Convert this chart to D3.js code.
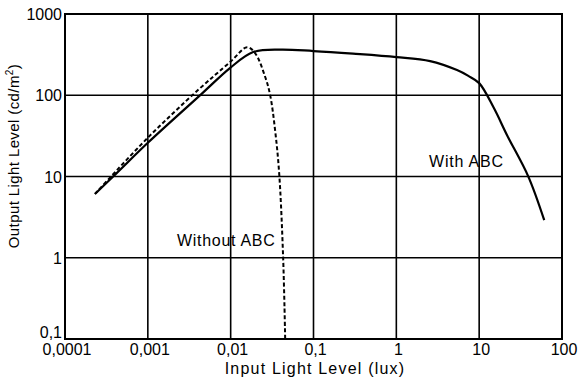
<!DOCTYPE html>
<html>
<head>
<meta charset="utf-8">
<script src="https://cdn.jsdelivr.net/npm/d3@7"></script>
<style>
  body { margin: 0; background: #fff; }
  svg text { font-family: "Liberation Sans", Arial, sans-serif; fill: #000; }
</style>
</head>
<body>
<div id="chart"></div>
<script>
// Tick values + labels (scan uses decimal commas)
var xTicks = [0.0001, 0.001, 0.01, 0.1, 1, 10, 100]
var xTickLabels = ['0,0001', '0,001', '0,01', '0,1', '1', '10', '100']
var yTicks = [0.1, 1, 10, 100, 1000]
var yTickLabels = ['0,1', '1', '10', '100', '1000']

// With ABC (solid)
var withX = [0.00023, 0.00042, 0.001, 0.0046, 0.0098, 0.0187, 0.04, 0.1, 0.3, 1, 2.56, 5.4, 7.4, 10, 15, 21.8, 39, 61]
var withY = [6.1, 11, 26, 107, 216, 340, 365, 350, 325, 295, 263, 204, 173, 141, 70, 32, 10.1, 2.9]

// Without ABC (dashed)
var withoutX = [0.00023, 0.001, 0.004, 0.01, 0.0158, 0.0197, 0.026, 0.030, 0.0344, 0.0385, 0.043, 0.0455]
var withoutY = [6.1, 30, 115, 260, 390, 331, 170, 100, 37, 11, 1.0, 0.1]

var width = 578
var height = 379
var margin = { top: 14, right: 16, bottom: 40, left: 65 }

var svg = d3.select('#chart')
  .append('svg')
  .attr('width', width)
  .attr('height', height)

var x = d3.scaleLog()
  .domain([0.0001, 100])
  .range([margin.left, width - margin.right])

var y = d3.scaleLog()
  .domain([0.1, 1000])
  .range([height - margin.bottom, margin.top])

// Grid lines
svg.append('g')
  .selectAll('line')
  .data(xTicks)
  .enter()
  .append('line')
  .attr('x1', function (d) { return x(d) })
  .attr('x2', function (d) { return x(d) })
  .attr('y1', y(0.1))
  .attr('y2', y(1000))
  .style('stroke', '#000')
  .style('stroke-width', 1.6)

svg.append('g')
  .selectAll('line')
  .data(yTicks)
  .enter()
  .append('line')
  .attr('x1', x(0.0001))
  .attr('x2', x(100))
  .attr('y1', function (d) { return y(d) })
  .attr('y2', function (d) { return y(d) })
  .style('stroke', '#000')
  .style('stroke-width', 1.6)

// Frame
svg.append('rect')
  .attr('x', x(0.0001))
  .attr('y', y(1000))
  .attr('width', x(100) - x(0.0001))
  .attr('height', y(0.1) - y(1000))
  .style('fill', 'none')
  .style('stroke', '#000')
  .style('stroke-width', 2)

// Tick labels
svg.append('g')
  .selectAll('text')
  .data(xTicks)
  .enter()
  .append('text')
  .attr('x', function (d) { return x(d) + 2 })
  .attr('y', 355)
  .attr('text-anchor', 'middle')
  .attr('font-size', '16px')
  .text(function (d, i) { return xTickLabels[i] })

svg.append('g')
  .selectAll('text')
  .data(yTicks)
  .enter()
  .append('text')
  .attr('x', margin.left - 3)
  .attr('y', function (d) { return d === 0.1 ? y(d) - 1 : y(d) + 6 })
  .attr('text-anchor', 'end')
  .attr('font-size', '16px')
  .text(function (d, i) { return yTickLabels[i] })

// Curves
var line = d3.line()
  .x(function (d) { return x(d[0]) })
  .y(function (d) { return y(d[1]) })
  .curve(d3.curveCatmullRom.alpha(0.5))

svg.append('path')
  .datum(withX.map(function (v, i) { return [v, withY[i]] }))
  .attr('d', line)
  .style('fill', 'none')
  .style('stroke', '#000')
  .style('stroke-width', 2.2)

svg.append('path')
  .datum(withoutX.map(function (v, i) { return [v, withoutY[i]] }))
  .attr('d', line)
  .style('fill', 'none')
  .style('stroke', '#000')
  .style('stroke-width', 2)
  .style('stroke-dasharray', '4,2.5')

// Curve labels
svg.append('text')
  .attr('x', 429)
  .attr('y', 167)
  .attr('font-size', '16px')
  .attr('letter-spacing', '0.8px')
  .text('With ABC')

svg.append('text')
  .attr('x', 177)
  .attr('y', 246)
  .attr('font-size', '16px')
  .attr('letter-spacing', '0.7px')
  .text('Without ABC')

// Axis titles
svg.append('text')
  .attr('x', 315)
  .attr('y', 374)
  .attr('text-anchor', 'middle')
  .attr('font-size', '16px')
  .attr('letter-spacing', '1.2px')
  .text('Input Light Level (lux)')

var yTitle = svg.append('text')
  .attr('transform', 'translate(19,' + 156 + ') rotate(-90)')
  .attr('text-anchor', 'middle')
  .attr('font-size', '15px')
  .attr('letter-spacing', '0.4px')
yTitle.append('tspan').text('Output Light Level (cd/m')
yTitle.append('tspan').attr('dy', -6).attr('font-size', '10px').text('2')
yTitle.append('tspan').attr('dy', 6).text(')')
</script>
</body>
</html>
